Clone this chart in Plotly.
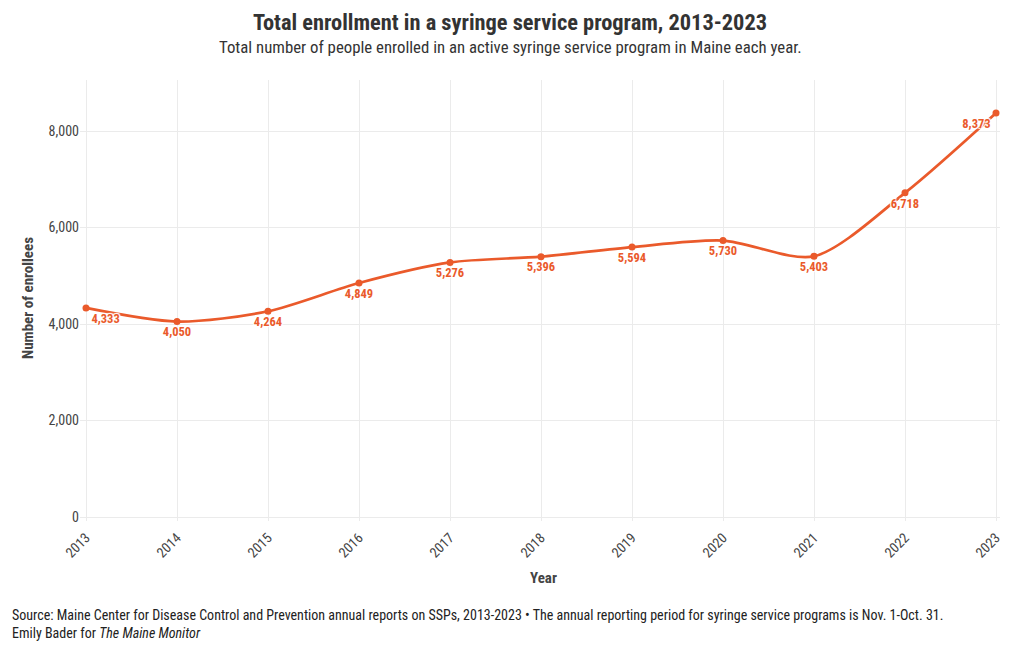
import plotly.graph_objects as go

years = [2013, 2014, 2015, 2016, 2017, 2018, 2019, 2020, 2021, 2022, 2023]
enrollees = [4333, 4050, 4264, 4849, 5276, 5396, 5594, 5730, 5403, 6718, 8373]
labels = [f"{v:,}" for v in enrollees]
y_ticks = [0, 2000, 4000, 6000, 8000]

COLOR = "#EA5A2B"
FONT = "Roboto Condensed, Liberation Sans Narrow, Roboto, sans-serif"

positions = ["bottom right"] + ["bottom center"] * (len(years) - 2) + ["bottom left"]

# page body has ~8px margin; compensate so the plot lands where the reference has it
L, T, W, H = 72, 72, 920, 441
R = 1020 - L - W
B = 650 - T - H

fig = go.Figure()
fig.add_trace(go.Scatter(
    x=years, y=enrollees, mode="lines+markers+text",
    line=dict(color=COLOR, width=2.7, shape="spline", smoothing=0.8),
    marker=dict(color=COLOR, size=7),
    text=labels, textposition=positions,
    textfont=dict(color=COLOR, size=12.5, family=FONT, weight="bold",
                  shadow="1px 1px 1px white, -1px -1px 1px white, 1px -1px 1px white, -1px 1px 1px white"),
    cliponaxis=False, showlegend=False, hoverinfo="x+y",
))

fig.update_layout(
    width=1020, height=650,
    paper_bgcolor="white", plot_bgcolor="white",
    margin=dict(l=L, r=R, t=T, b=B),
    font=dict(family=FONT, color="#444444"),
)

def py(y_px):
    # convert reference pixel y (page coords) to paper coords
    return (T + 8 + H - y_px) / H

fig.add_annotation(text="<b>Total enrollment in a syringe service program, 2013-2023</b>",
                   xref="paper", yref="paper", x=(510 - 8 - L) / W, y=py(22), xanchor="center", yanchor="middle",
                   showarrow=False, font=dict(size=22.4, color="#333333", family=FONT))
fig.add_annotation(text="Total number of people enrolled in an active syringe service program in Maine each year.",
                   xref="paper", yref="paper", x=(510 - 8 - L) / W, y=py(47), xanchor="center", yanchor="middle",
                   showarrow=False, font=dict(size=16.8, color="#333333", family=FONT))
fig.add_annotation(text="Source: Maine Center for Disease Control and Prevention annual reports on SSPs, 2013-2023 • The annual reporting period for syringe service programs is Nov. 1-Oct. 31.<br>Emily Bader for <i>The Maine Monitor</i>",
                   xref="paper", yref="paper", x=(10 - 8 - L) / W, y=py(624), xanchor="left", yanchor="middle",
                   align="left", showarrow=False, font=dict(size=14, color="#222222", family=FONT))
fig.add_annotation(text="<b>Year</b>",
                   xref="paper", yref="paper", x=(543 - 8 - L) / W, y=py(578), xanchor="center", yanchor="middle",
                   showarrow=False, font=dict(size=15, color="#444444", family=FONT))
fig.add_annotation(text="<b>Number of enrollees</b>", textangle=-90,
                   xref="paper", yref="paper", x=(28 - 8 - L) / W, y=py(298), xanchor="center", yanchor="middle",
                   showarrow=False, font=dict(size=15, color="#444444", family=FONT))

fig.update_xaxes(
    range=[2012.934, 2023.044], tickvals=years, ticktext=[str(y) for y in years],
    tickangle=-45, showgrid=True, gridcolor="#ebebeb", gridwidth=1,
    zeroline=False, showline=False, ticks="", ticklabelstandoff=5,
    tickfont=dict(size=14, color="#444444"),
)
fig.update_yaxes(
    range=[-83, 9057], tickvals=y_ticks, tickformat=",",
    showgrid=True, gridcolor="#ebebeb", gridwidth=1,
    zeroline=False, showline=False, ticks="",
    tickfont=dict(size=14, color="#444444"),
)

fig.write_html("out.html")
